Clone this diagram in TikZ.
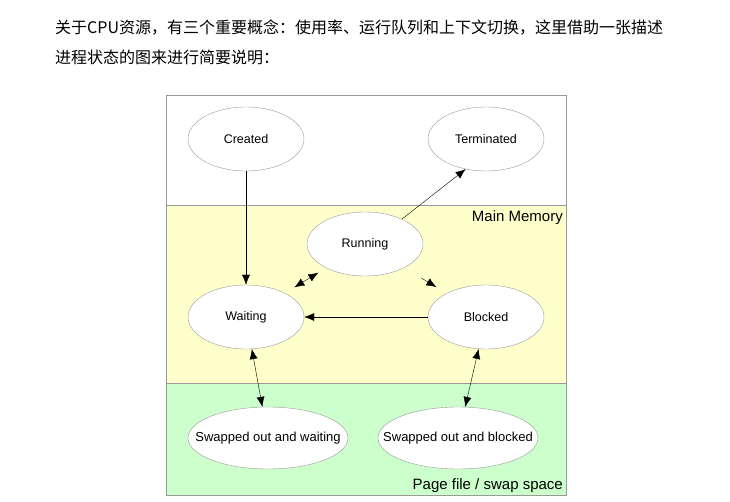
\documentclass[tikz,border=0pt]{standalone}
\usepackage{fontspec}
\setmainfont{Liberation Sans}
\newfontfamily\cjk{Noto Sans CJK SC}
\usetikzlibrary{arrows.meta, positioning, shapes.geometric}
\definecolor{memyellow}{rgb}{1, 1, 0.8}
\definecolor{swapgreen}{rgb}{0.8, 1, 0.8}
\definecolor{edgegray}{rgb}{0.6, 0.6, 0.6}
\begin{document}
\begin{tikzpicture}[x=1pt, y=-1pt,
    state/.style={draw=edgegray, ellipse, fill=white, minimum width=116pt, minimum height=64pt, inner sep=0pt, font=\fontsize{12.5}{14}\selectfont},
    wide/.style={state, minimum width=160pt, minimum height=62pt, inner xsep=-22pt, font=\fontsize{13}{14}\selectfont},
    tip/.style={-{Latex[length=10pt, width=8pt]}},
    both/.style={{Latex[length=10pt, width=8pt]}-{Latex[length=10pt, width=8pt]}}]
    \useasboundingbox (0,0) rectangle (730,502);
    \fill[white] (0,0) rectangle (730,502);

    \node[anchor=west, inner sep=0pt, font=\cjk\fontsize{16}{18}\selectfont] (line1) at (55,28) {关于CPU资源，有三个重要概念：使用率、运行队列和上下文切换，这里借助一张描述};
    \node[anchor=west, inner sep=0pt, font=\cjk\fontsize{16}{18}\selectfont] (line2) at (55,57) {进程状态的图来进行简要说明：};

    % regions
    \fill[memyellow] (166,205) rectangle (566,383);
    \fill[swapgreen] (166,383) rectangle (566,495);
    \draw[edgegray] (166,95) rectangle (566,495);
    \draw[edgegray] (166,205) -- (566,205);
    \draw[edgegray] (166,383) -- (566,383);
    \node[anchor=south east, inner sep=1pt, font=\fontsize{15}{16}\selectfont] (mem) at (564,226) {Main Memory};
    \node[anchor=south east, inner sep=1pt, font=\fontsize{15}{16}\selectfont] (swap) at (564,494) {Page file / swap space};

    \node[state] (Created) at (246,139) {Created};
    \node[state] (Terminated) at (486,139) {Terminated};
    \node[state] (Running) at (365,244) {Running};
    \node[state] (Waiting) at (246,317) {Waiting};
    \node[state] (Blocked) at (486,317) {Blocked};
    \node[wide] (SwapW) at (268,438) {Swapped out and waiting};
    \node[wide] (SwapB) at (458,438) {Swapped out and blocked};

    \draw[tip] (Created) -- (Waiting);
    \draw[tip] (Running.34) -- (Terminated.236);
    \draw[both, shorten <=11pt, shorten >=9pt] (Waiting) -- (Running);
    \draw[tip, shorten <=20pt, shorten >=12pt] (Running) -- (Blocked);
    \draw[tip] (Blocked) -- (Waiting);
    \draw[both] (Waiting) -- (SwapW);
    \draw[both] (Blocked) -- (SwapB);
\end{tikzpicture}
\end{document}
